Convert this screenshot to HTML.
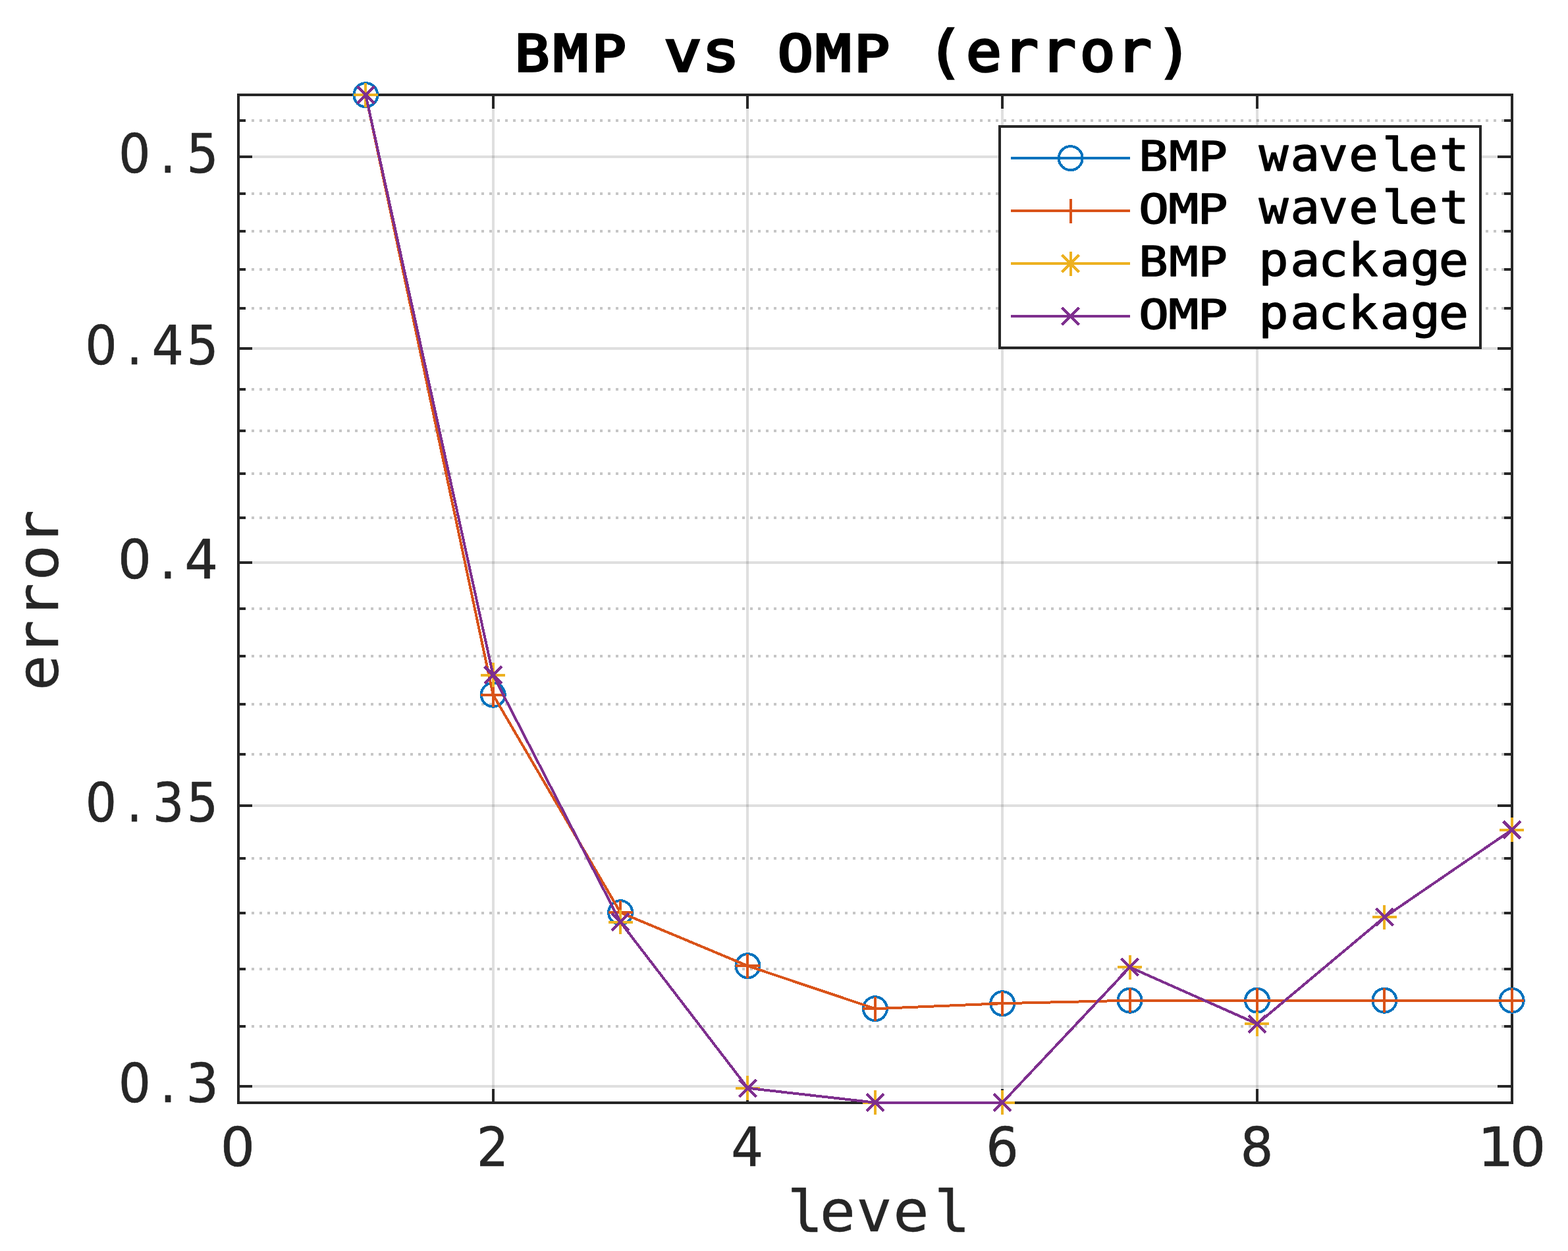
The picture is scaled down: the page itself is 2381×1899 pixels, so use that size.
<!DOCTYPE html>
<html lang="en"><head><meta charset="utf-8"><title>BMP vs OMP (error)</title>
<style>html,body{margin:0;padding:0;background:#fff}body{width:2381px;height:1899px}svg{display:block}</style>
</head><body>
<svg width="2381" height="1899" viewBox="0 0 2381 1899">
<rect width="2381" height="1899" fill="#fff"/>
<g id="grid-minor" stroke="#1a1a1a" stroke-opacity="0.25" stroke-width="4" fill="none" stroke-dasharray="4 8.012" shape-rendering="crispEdges">
<line x1="382.4" y1="1558" x2="2284" y2="1558"/>
<line x1="382.4" y1="1471" x2="2284" y2="1471"/>
<line x1="382.4" y1="1386" x2="2284" y2="1386"/>
<line x1="382.4" y1="1303" x2="2284" y2="1303"/>
<line x1="382.4" y1="1145" x2="2284" y2="1145"/>
<line x1="382.4" y1="1069" x2="2284" y2="1069"/>
<line x1="382.4" y1="996" x2="2284" y2="996"/>
<line x1="382.4" y1="924" x2="2284" y2="924"/>
<line x1="382.4" y1="786" x2="2284" y2="786"/>
<line x1="382.4" y1="719" x2="2284" y2="719"/>
<line x1="382.4" y1="654" x2="2284" y2="654"/>
<line x1="382.4" y1="591" x2="2284" y2="591"/>
<line x1="382.4" y1="468" x2="2284" y2="468"/>
<line x1="382.4" y1="409" x2="2284" y2="409"/>
<line x1="382.4" y1="351" x2="2284" y2="351"/>
<line x1="382.4" y1="294" x2="2284" y2="294"/>
<line x1="382.4" y1="183" x2="2284" y2="183"/>
</g>
<g id="grid-major" stroke="#262626" stroke-opacity="0.15" stroke-width="4" fill="none">
<line x1="749" y1="144" x2="749" y2="1674"/>
<line x1="1135" y1="144" x2="1135" y2="1674"/>
<line x1="1522" y1="144" x2="1522" y2="1674"/>
<line x1="1909" y1="144" x2="1909" y2="1674"/>
<line x1="362" y1="1649" x2="2296" y2="1649"/>
<line x1="362" y1="1223" x2="2296" y2="1223"/>
<line x1="362" y1="854" x2="2296" y2="854"/>
<line x1="362" y1="529" x2="2296" y2="529"/>
<line x1="362" y1="238" x2="2296" y2="238"/>
</g>
<g id="axes" stroke="#262626" stroke-width="4" fill="none">
<rect x="362" y="144" width="1934" height="1530"/>
<line x1="749" y1="1674" x2="749" y2="1653"/>
<line x1="749" y1="144" x2="749" y2="165"/>
<line x1="1135" y1="1674" x2="1135" y2="1653"/>
<line x1="1135" y1="144" x2="1135" y2="165"/>
<line x1="1522" y1="1674" x2="1522" y2="1653"/>
<line x1="1522" y1="144" x2="1522" y2="165"/>
<line x1="1909" y1="1674" x2="1909" y2="1653"/>
<line x1="1909" y1="144" x2="1909" y2="165"/>
<line x1="362" y1="1649" x2="383" y2="1649"/>
<line x1="2296" y1="1649" x2="2274" y2="1649"/>
<line x1="362" y1="1223" x2="383" y2="1223"/>
<line x1="2296" y1="1223" x2="2274" y2="1223"/>
<line x1="362" y1="854" x2="383" y2="854"/>
<line x1="2296" y1="854" x2="2274" y2="854"/>
<line x1="362" y1="529" x2="383" y2="529"/>
<line x1="2296" y1="529" x2="2274" y2="529"/>
<line x1="362" y1="238" x2="383" y2="238"/>
<line x1="2296" y1="238" x2="2274" y2="238"/>
<line x1="362" y1="1558" x2="373" y2="1558"/>
<line x1="2296" y1="1558" x2="2284" y2="1558"/>
<line x1="362" y1="1471" x2="373" y2="1471"/>
<line x1="2296" y1="1471" x2="2284" y2="1471"/>
<line x1="362" y1="1386" x2="373" y2="1386"/>
<line x1="2296" y1="1386" x2="2284" y2="1386"/>
<line x1="362" y1="1303" x2="373" y2="1303"/>
<line x1="2296" y1="1303" x2="2284" y2="1303"/>
<line x1="362" y1="1145" x2="373" y2="1145"/>
<line x1="2296" y1="1145" x2="2284" y2="1145"/>
<line x1="362" y1="1069" x2="373" y2="1069"/>
<line x1="2296" y1="1069" x2="2284" y2="1069"/>
<line x1="362" y1="996" x2="373" y2="996"/>
<line x1="2296" y1="996" x2="2284" y2="996"/>
<line x1="362" y1="924" x2="373" y2="924"/>
<line x1="2296" y1="924" x2="2284" y2="924"/>
<line x1="362" y1="786" x2="373" y2="786"/>
<line x1="2296" y1="786" x2="2284" y2="786"/>
<line x1="362" y1="719" x2="373" y2="719"/>
<line x1="2296" y1="719" x2="2284" y2="719"/>
<line x1="362" y1="654" x2="373" y2="654"/>
<line x1="2296" y1="654" x2="2284" y2="654"/>
<line x1="362" y1="591" x2="373" y2="591"/>
<line x1="2296" y1="591" x2="2284" y2="591"/>
<line x1="362" y1="468" x2="373" y2="468"/>
<line x1="2296" y1="468" x2="2284" y2="468"/>
<line x1="362" y1="409" x2="373" y2="409"/>
<line x1="2296" y1="409" x2="2284" y2="409"/>
<line x1="362" y1="351" x2="373" y2="351"/>
<line x1="2296" y1="351" x2="2284" y2="351"/>
<line x1="362" y1="294" x2="373" y2="294"/>
<line x1="2296" y1="294" x2="2284" y2="294"/>
<line x1="362" y1="183" x2="373" y2="183"/>
<line x1="2296" y1="183" x2="2284" y2="183"/>
</g>
<g id="bmp-wavelet" stroke="#0072bd" stroke-width="4" fill="none" stroke-linejoin="miter" shape-rendering="crispEdges">
<polyline points="555.37,144.2 748.74,1054.7 942.11,1385.2 1135.48,1466.2 1328.85,1531.2 1522.22,1523.2 1715.59,1518.7 1908.96,1518.7 2102.33,1518.7 2295.7,1518.7"/>
<circle cx="555.37" cy="144.2" r="18"/>
<circle cx="748.74" cy="1054.7" r="18"/>
<circle cx="942.11" cy="1385.2" r="18"/>
<circle cx="1135.48" cy="1466.2" r="18"/>
<circle cx="1328.85" cy="1531.2" r="18"/>
<circle cx="1522.22" cy="1523.2" r="18"/>
<circle cx="1715.59" cy="1518.7" r="18"/>
<circle cx="1908.96" cy="1518.7" r="18"/>
<circle cx="2102.33" cy="1518.7" r="18"/>
<circle cx="2295.7" cy="1518.7" r="18"/>
</g>
<g id="omp-wavelet" stroke="#d95319" stroke-width="4" fill="none" stroke-linejoin="miter" shape-rendering="crispEdges">
<polyline points="555.37,144.2 748.74,1054.7 942.11,1385.2 1135.48,1466.2 1328.85,1531.2 1522.22,1523.2 1715.59,1518.7 1908.96,1518.7 2102.33,1518.7 2295.7,1518.7"/>
<path d="M536.87 144.2H573.87M555.37 125.7V162.7"/>
<path d="M730.24 1054.7H767.24M748.74 1036.2V1073.2"/>
<path d="M923.61 1385.2H960.61M942.11 1366.7V1403.7"/>
<path d="M1116.98 1466.2H1153.98M1135.48 1447.7V1484.7"/>
<path d="M1310.35 1531.2H1347.35M1328.85 1512.7V1549.7"/>
<path d="M1503.72 1523.2H1540.72M1522.22 1504.7V1541.7"/>
<path d="M1697.09 1518.7H1734.09M1715.59 1500.2V1537.2"/>
<path d="M1890.46 1518.7H1927.46M1908.96 1500.2V1537.2"/>
<path d="M2083.83 1518.7H2120.83M2102.33 1500.2V1537.2"/>
<path d="M2277.2 1518.7H2314.2M2295.7 1500.2V1537.2"/>
</g>
<g id="bmp-package" stroke="#edb120" stroke-width="4" fill="none" stroke-linejoin="miter" shape-rendering="crispEdges">
<polyline points="555.37,144.2 748.74,1024.7 942.11,1399.7 1135.48,1651.7 1328.85,1673.7 1522.22,1673.7 1715.59,1468.2 1908.96,1554.2 2102.33,1392.2 2295.7,1259.7"/>
<path d="M536.87 144.2H573.87M555.37 125.7V162.7"/><path stroke-width="4.3" d="M542.37 131.2L568.37 157.2M542.37 157.2L568.37 131.2"/>
<path d="M730.24 1024.7H767.24M748.74 1006.2V1043.2"/><path stroke-width="4.3" d="M735.74 1011.7L761.74 1037.7M735.74 1037.7L761.74 1011.7"/>
<path d="M923.61 1399.7H960.61M942.11 1381.2V1418.2"/><path stroke-width="4.3" d="M929.11 1386.7L955.11 1412.7M929.11 1412.7L955.11 1386.7"/>
<path d="M1116.98 1651.7H1153.98M1135.48 1633.2V1670.2"/><path stroke-width="4.3" d="M1122.48 1638.7L1148.48 1664.7M1122.48 1664.7L1148.48 1638.7"/>
<path d="M1310.35 1673.7H1347.35M1328.85 1655.2V1692.2"/><path stroke-width="4.3" d="M1315.85 1660.7L1341.85 1686.7M1315.85 1686.7L1341.85 1660.7"/>
<path d="M1503.72 1673.7H1540.72M1522.22 1655.2V1692.2"/><path stroke-width="4.3" d="M1509.22 1660.7L1535.22 1686.7M1509.22 1686.7L1535.22 1660.7"/>
<path d="M1697.09 1468.2H1734.09M1715.59 1449.7V1486.7"/><path stroke-width="4.3" d="M1702.59 1455.2L1728.59 1481.2M1702.59 1481.2L1728.59 1455.2"/>
<path d="M1890.46 1554.2H1927.46M1908.96 1535.7V1572.7"/><path stroke-width="4.3" d="M1895.96 1541.2L1921.96 1567.2M1895.96 1567.2L1921.96 1541.2"/>
<path d="M2083.83 1392.2H2120.83M2102.33 1373.7V1410.7"/><path stroke-width="4.3" d="M2089.33 1379.2L2115.33 1405.2M2089.33 1405.2L2115.33 1379.2"/>
<path d="M2277.2 1259.7H2314.2M2295.7 1241.2V1278.2"/><path stroke-width="4.3" d="M2282.7 1246.7L2308.7 1272.7M2282.7 1272.7L2308.7 1246.7"/>
</g>
<g id="omp-package" stroke="#7e2f8e" stroke-width="4" fill="none" stroke-linejoin="miter" shape-rendering="crispEdges">
<polyline points="555.37,144.2 748.74,1024.7 942.11,1399.7 1135.48,1651.7 1328.85,1673.7 1522.22,1673.7 1715.59,1468.2 1908.96,1554.2 2102.33,1392.2 2295.7,1259.7"/>
<path stroke-width="4.3" d="M542.37 131.2L568.37 157.2M542.37 157.2L568.37 131.2"/>
<path stroke-width="4.3" d="M735.74 1011.7L761.74 1037.7M735.74 1037.7L761.74 1011.7"/>
<path stroke-width="4.3" d="M929.11 1386.7L955.11 1412.7M929.11 1412.7L955.11 1386.7"/>
<path stroke-width="4.3" d="M1122.48 1638.7L1148.48 1664.7M1122.48 1664.7L1148.48 1638.7"/>
<path stroke-width="4.3" d="M1315.85 1660.7L1341.85 1686.7M1315.85 1686.7L1341.85 1660.7"/>
<path stroke-width="4.3" d="M1509.22 1660.7L1535.22 1686.7M1509.22 1686.7L1535.22 1660.7"/>
<path stroke-width="4.3" d="M1702.59 1455.2L1728.59 1481.2M1702.59 1481.2L1728.59 1455.2"/>
<path stroke-width="4.3" d="M1895.96 1541.2L1921.96 1567.2M1895.96 1567.2L1921.96 1541.2"/>
<path stroke-width="4.3" d="M2089.33 1379.2L2115.33 1405.2M2089.33 1405.2L2115.33 1379.2"/>
<path stroke-width="4.3" d="M2282.7 1246.7L2308.7 1272.7M2282.7 1272.7L2308.7 1246.7"/>
</g>
<g id="xticks">
<text x="334.75" y="1769.55" font-size="82.17" font-family="'DejaVu Sans','Liberation Sans',sans-serif" font-weight="normal" fill="#262626" stroke="#262626" stroke-width="0.7" stroke-linejoin="round" xml:space="preserve">0</text>
<text x="723.75" y="1769.55" font-size="82.17" textLength="48.66" lengthAdjust="spacingAndGlyphs" font-family="'DejaVu Sans','Liberation Sans',sans-serif" font-weight="normal" fill="#262626" stroke="#262626" stroke-width="0.7" stroke-linejoin="round" xml:space="preserve">2</text>
<text x="1110.19" y="1769.55" font-size="82.17" textLength="48.98" lengthAdjust="spacingAndGlyphs" font-family="'DejaVu Sans','Liberation Sans',sans-serif" font-weight="normal" fill="#262626" stroke="#262626" stroke-width="0.7" stroke-linejoin="round" xml:space="preserve">4</text>
<text x="1497.23" y="1769.55" font-size="82.17" textLength="49.42" lengthAdjust="spacingAndGlyphs" font-family="'DejaVu Sans','Liberation Sans',sans-serif" font-weight="normal" fill="#262626" stroke="#262626" stroke-width="0.7" stroke-linejoin="round" xml:space="preserve">6</text>
<text x="1883.42" y="1769.55" font-size="82.17" textLength="50.01" lengthAdjust="spacingAndGlyphs" font-family="'DejaVu Sans','Liberation Sans',sans-serif" font-weight="normal" fill="#262626" stroke="#262626" stroke-width="0.7" stroke-linejoin="round" xml:space="preserve">8</text>
<text x="2243.79 2292.47" y="1769.55" font-size="82.17" textLength="110.02" lengthAdjust="spacingAndGlyphs" font-family="'DejaVu Sans','Liberation Sans',sans-serif" font-weight="normal" fill="#262626" stroke="#262626" stroke-width="0.7" stroke-linejoin="round" xml:space="preserve">10</text>
</g>
<g id="yticks">
<text x="180.08 242.85 283.2" y="261.85" font-size="82.17" textLength="121.42" lengthAdjust="spacingAndGlyphs" font-family="'DejaVu Sans','Liberation Sans',sans-serif" font-weight="normal" fill="#262626" stroke="#262626" stroke-width="0.7" stroke-linejoin="round" xml:space="preserve">0.5</text>
<text x="129.26 191.97 230.52 283.23" y="552.85" font-size="82.17" textLength="169.82" lengthAdjust="spacingAndGlyphs" font-family="'DejaVu Sans','Liberation Sans',sans-serif" font-weight="normal" fill="#262626" stroke="#262626" stroke-width="0.7" stroke-linejoin="round" xml:space="preserve">0.45</text>
<text x="178.93 242.28 280.3" y="877.85" font-size="82.17" textLength="127.2" lengthAdjust="spacingAndGlyphs" font-family="'DejaVu Sans','Liberation Sans',sans-serif" font-weight="normal" fill="#262626" stroke="#262626" stroke-width="0.7" stroke-linejoin="round" xml:space="preserve">0.4</text>
<text x="129.85 192.26 232.03 283.81" y="1246.85" font-size="82.17" textLength="165.65" lengthAdjust="spacingAndGlyphs" font-family="'DejaVu Sans','Liberation Sans',sans-serif" font-weight="normal" fill="#262626" stroke="#262626" stroke-width="0.7" stroke-linejoin="round" xml:space="preserve">0.35</text>
<text x="179.65 242.64 282.38" y="1672.85" font-size="82.17" textLength="123.58" lengthAdjust="spacingAndGlyphs" font-family="'DejaVu Sans','Liberation Sans',sans-serif" font-weight="normal" fill="#262626" stroke="#262626" stroke-width="0.7" stroke-linejoin="round" xml:space="preserve">0.3</text>
</g>
<text x="1195.48 1244.72 1300.17 1356.17 1418.68" y="1868.55" font-size="88.12" textLength="271.81" lengthAdjust="spacingAndGlyphs" font-family="'DejaVu Sans Mono','Liberation Mono',monospace" font-weight="normal" fill="#262626" stroke="#262626" stroke-width="0.5" stroke-linejoin="round" xml:space="preserve">level</text>
<g transform="translate(88 1050) rotate(-90)"><text x="1.54 54.32 110.47 168.44 221.77" y="-0.25" font-size="88.12" textLength="272.12" lengthAdjust="spacingAndGlyphs" font-family="'DejaVu Sans Mono','Liberation Mono',monospace" font-weight="normal" fill="#262626" stroke="#262626" stroke-width="0.5" stroke-linejoin="round" xml:space="preserve">error</text></g>
<text font-size="75.99" font-family="'DejaVu Sans Mono','Liberation Mono',monospace" font-weight="normal" fill="#000" stroke="#000" stroke-width="3.6" stroke-linejoin="miter" xml:space="preserve"><tspan x="781.92 840.2 898.42" y="108.1" font-size="75.99" textLength="157.18" lengthAdjust="spacingAndGlyphs">BMP</tspan> <tspan x="1008.15 1065.97" y="108.1" font-size="84.64" textLength="114.19" lengthAdjust="spacingAndGlyphs">vs</tspan> <tspan x="1180.88 1238.28 1297.13" y="108.1" font-size="75.99" textLength="162.41" lengthAdjust="spacingAndGlyphs">OMP</tspan> <tspan x="1407.92 1467.12 1523.02 1580.07 1639.81 1695.07 1756.2" y="108.1" font-size="84.64" textLength="376.47" lengthAdjust="spacingAndGlyphs">(error)</tspan></text>
<g id="legend">
<rect x="1518" y="192" width="730" height="336" fill="#fff" stroke="#262626" stroke-width="4"/>
<g stroke="#0072bd" stroke-width="4" fill="none" shape-rendering="crispEdges"><path d="M1535 240H1716"/><circle cx="1625.7" cy="240.2" r="18"/></g>
<text font-size="62" font-family="'DejaVu Sans Mono','Liberation Mono',monospace" font-weight="normal" fill="#000" stroke="#000" stroke-width="1.5" stroke-linejoin="round" xml:space="preserve"><tspan x="1729.34 1775.19 1819.46" y="259.15" font-size="62" textLength="133.19" lengthAdjust="spacingAndGlyphs">BMP</tspan> <tspan x="1911.7 1959.59 2002.3 2048.21 2099.13 2138.71 2185.96" y="259.15" font-size="70.2" textLength="312.25" lengthAdjust="spacingAndGlyphs">wavelet</tspan></text>
<g stroke="#d95319" stroke-width="4" fill="none" shape-rendering="crispEdges"><path d="M1535 320H1716"/><path d="M1607.2 320.2H1644.2M1625.7 301.7V338.7"/></g>
<text font-size="62" font-family="'DejaVu Sans Mono','Liberation Mono',monospace" font-weight="normal" fill="#000" stroke="#000" stroke-width="1.5" stroke-linejoin="round" xml:space="preserve"><tspan x="1728.97 1774.36 1818.56" y="339.15" font-size="62" textLength="138.18" lengthAdjust="spacingAndGlyphs">OMP</tspan> <tspan x="1911.7 1959.59 2002.3 2048.21 2099.13 2138.71 2185.96" y="339.15" font-size="70.2" textLength="312.25" lengthAdjust="spacingAndGlyphs">wavelet</tspan></text>
<g stroke="#edb120" stroke-width="4" fill="none" shape-rendering="crispEdges"><path d="M1535 400H1716"/><path d="M1607.2 400.2H1644.2M1625.7 381.7V418.7"/><path stroke-width="4.3" d="M1612.7 387.2L1638.7 413.2M1612.7 413.2L1638.7 387.2"/></g>
<text font-size="62" font-family="'DejaVu Sans Mono','Liberation Mono',monospace" font-weight="normal" fill="#000" stroke="#000" stroke-width="1.5" stroke-linejoin="round" xml:space="preserve"><tspan x="1729.34 1775.19 1819.46" y="419.15" font-size="62" textLength="133.19" lengthAdjust="spacingAndGlyphs">BMP</tspan> <tspan x="1911.26 1959.26 2001.98 2047.34 2095.76 2141.71 2184.67" y="419.15" font-size="70.2" textLength="317.01" lengthAdjust="spacingAndGlyphs">package</tspan></text>
<g stroke="#7e2f8e" stroke-width="4" fill="none" shape-rendering="crispEdges"><path d="M1535 480H1716"/><path stroke-width="4.3" d="M1612.7 467.2L1638.7 493.2M1612.7 493.2L1638.7 467.2"/></g>
<text font-size="62" font-family="'DejaVu Sans Mono','Liberation Mono',monospace" font-weight="normal" fill="#000" stroke="#000" stroke-width="1.5" stroke-linejoin="round" xml:space="preserve"><tspan x="1728.97 1774.36 1818.56" y="499.15" font-size="62" textLength="138.18" lengthAdjust="spacingAndGlyphs">OMP</tspan> <tspan x="1911.26 1959.26 2001.98 2047.34 2095.76 2141.71 2184.67" y="499.15" font-size="70.2" textLength="317.01" lengthAdjust="spacingAndGlyphs">package</tspan></text>
</g>
</svg>
</body></html>
